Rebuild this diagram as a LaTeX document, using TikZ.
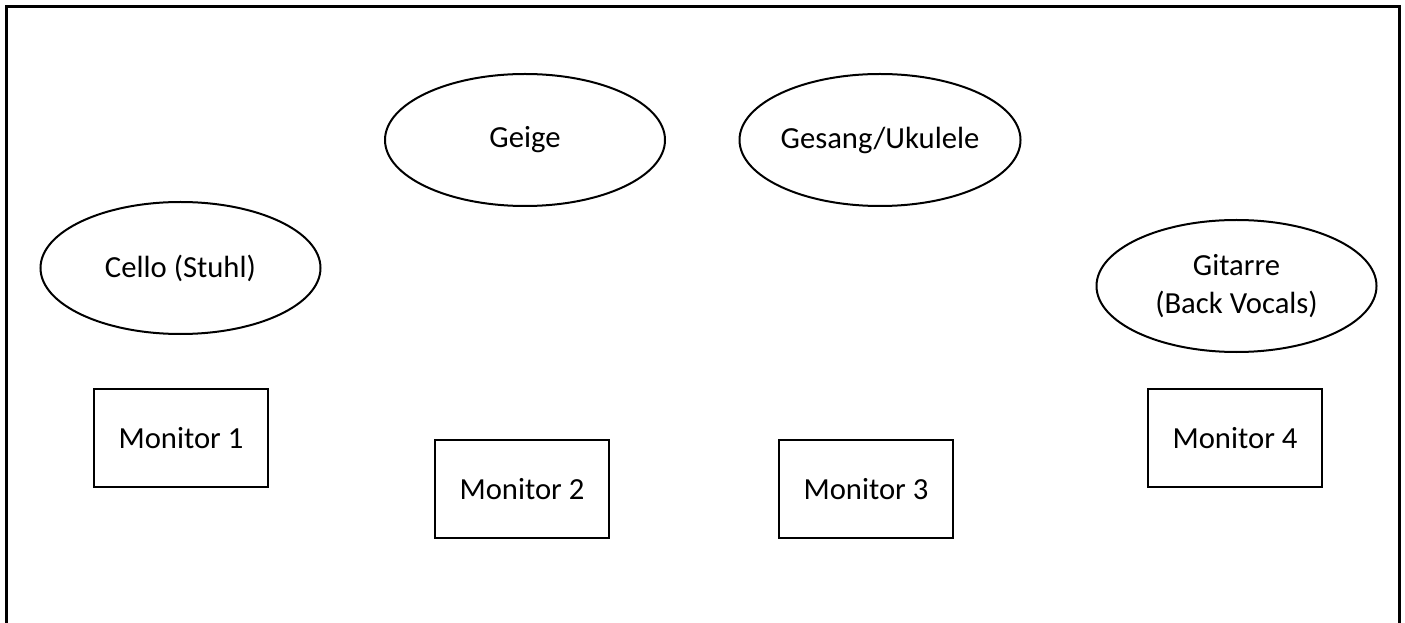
\documentclass[tikz,border=0pt]{standalone}
\usepackage{fontspec}
\setmainfont{Carlito}
\usepackage{tikz}
\usetikzlibrary{shapes.geometric}

\begin{document}
\begin{tikzpicture}[
    x=0.75pt, y=-0.75pt,
    every node/.style={font=\fontsize{23}{28.5}\selectfont, align=center},
    player/.style={ellipse, draw, line width=1.5pt, inner sep=0pt,
        minimum width=210pt, minimum height=99pt},
    monitor/.style={rectangle, draw, line width=1.5pt, inner sep=0pt,
        minimum width=131pt, minimum height=74pt}
]
    \useasboundingbox (0,0) rectangle (1405,623);
    % stage frame, open at the front
    \draw[line width=2.25pt] (6.5,623) -- (6.5,6.5) -- (1399.5,6.5) -- (1399.5,623);

    % musicians
    \node[player] (cello) at (180.5,268) {Cello (Stuhl)};
    \node[player] (geige) at (525,140) {Geige};
    \node[player] (gesang) at (880,140) {Gesang/Ukulele};
    \node[player] (gitarre) at (1236.5,286) {Gitarre\\(Back Vocals)};

    % monitors
    \node[monitor] (mon1) at (181,438) {Monitor 1};
    \node[monitor] (mon2) at (522,489) {Monitor 2};
    \node[monitor] (mon3) at (866,489) {Monitor 3};
    \node[monitor] (mon4) at (1235,438) {Monitor 4};
\end{tikzpicture}
\end{document}
